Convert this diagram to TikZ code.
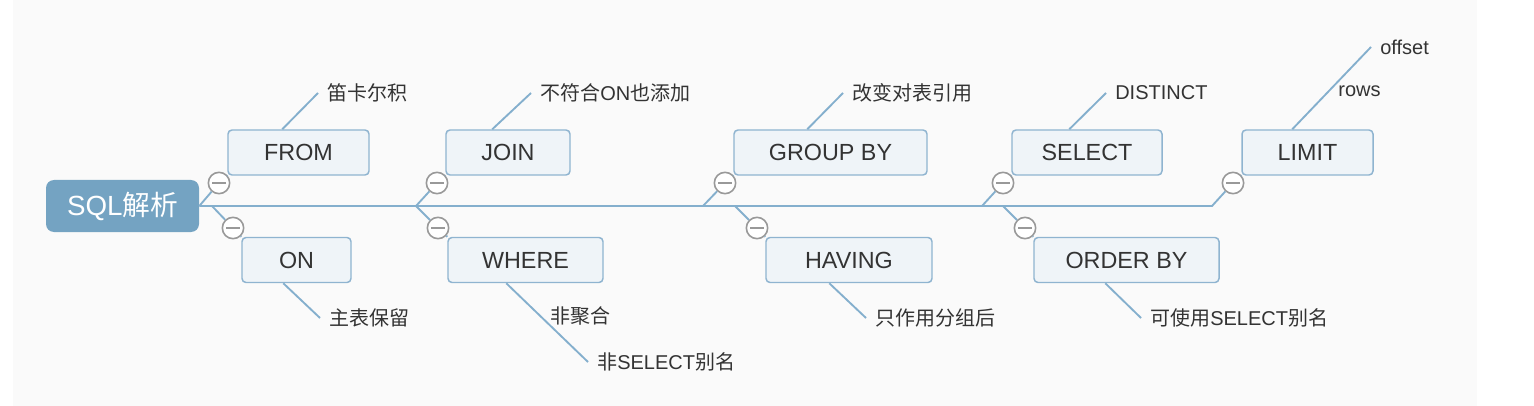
\documentclass[tikz,border=0pt]{standalone}
\usepackage{fontspec}
\setmainfont{Liberation Sans}
\newfontfamily\cjk{Noto Sans CJK SC}
\usepackage{tikz}
\definecolor{rootblue}{HTML}{74A3C2}
\definecolor{linkblue}{HTML}{84AFCD}
\definecolor{boxfill}{HTML}{EFF4F8}
\definecolor{boxline}{HTML}{8FB4D0}
\definecolor{ink}{HTML}{333333}
\definecolor{canvas}{HTML}{FAFAFA}
\tikzset{
  rootbox/.style={rounded corners=6pt, fill=rootblue, text=white, minimum width=114.75pt,
    minimum height=39pt, font=\fontsize{20.8}{24}\selectfont},
  keybox/.style={draw=boxline, line width=1.1pt, fill=boxfill, rounded corners=3pt,
    minimum height=33.75pt, text=ink, font=\fontsize{17.5}{20}\selectfont},
  minus/.style={circle, draw=gray!80, fill=white, line width=1.2pt, minimum size=16pt, inner sep=0pt,
    path picture={\draw[gray!80, line width=1.1pt] ([xshift=3pt]path picture bounding box.west)
      -- ([xshift=-3pt]path picture bounding box.east);}},
  link/.style={draw=linkblue, line width=1.4pt},
  note/.style={text=ink, font=\fontsize{15}{18}\selectfont, inner xsep=6.75pt, inner ysep=1pt, anchor=west},
}

\begin{document}
\begin{tikzpicture}[x=0.75pt,y=-0.75pt]
\useasboundingbox (0,0) rectangle (1534,406);
\fill[white] (0,0) rectangle (1534,406);
\fill[canvas] (13,0) rectangle (1477,406);

% root and clauses
\node[rootbox] (root) at (122.5,206) {SQL{\cjk 解析}};
\node[keybox, minimum width=105.75pt] (from) at (298.5,152.5) {FROM};
\node[keybox, minimum width=81.75pt] (on) at (296.5,260) {ON};
\node[keybox, minimum width=93pt] (join) at (508,152.5) {JOIN};
\node[keybox, minimum width=116.25pt] (where) at (525.5,260) {WHERE};
\node[keybox, minimum width=144.75pt] (groupby) at (830.5,152.5) {GROUP BY};
\node[keybox, minimum width=124.5pt] (having) at (849,260) {HAVING};
\node[keybox, minimum width=112.5pt] (select) at (1087,152.5) {SELECT};
\node[keybox, minimum width=138.75pt] (orderby) at (1126.5,260) {ORDER BY};
\node[keybox, minimum width=98.25pt] (limit) at (1307.5,152.5) {LIMIT};

% collapse buttons
\node[minus] (mFrom) at (219,183) {};
\node[minus] (mOn) at (233,228) {};
\node[minus] (mJoin) at (437,183) {};
\node[minus] (mWhere) at (438,228) {};
\node[minus] (mGroup) at (725,183) {};
\node[minus] (mHaving) at (757,228) {};
\node[minus] (mSelect) at (1003,183) {};
\node[minus] (mOrder) at (1025,228) {};
\node[minus] (mLimit) at (1233,183) {};

\coordinate (kOn) at (212,206);
\coordinate (kJoin) at (416,206);
\coordinate (kGroup) at (703,206);
\coordinate (kHaving) at (735,206);
\coordinate (kSelect) at (982,206);
\coordinate (kOrder) at (1003,206);
\coordinate (kLimit) at (1212,206);

% spine and branches
\draw[link] (root.east) -- (kLimit) -- (mLimit) -- (limit.south west);
\draw[link] (root.east) -- (mFrom) -- (from.south west);
\draw[link] (kOn) -- (mOn) -- (on.north west);
\draw[link] (kJoin) -- (mJoin) -- (join.south west);
\draw[link] (kJoin) -- (mWhere) -- (where.north west);
\draw[link] (kGroup) -- (mGroup) -- (groupby.south west);
\draw[link] (kHaving) -- (mHaving) -- (having.north west);
\draw[link] (kSelect) -- (mSelect) -- (select.south west);
\draw[link] (kOrder) -- (mOrder) -- (orderby.north west);

% notes
\node[note] (fromNote) at (318,93) {{\cjk 笛卡尔积}};
\node[note] (onNote) at (320,318) {{\cjk 主表保留}};
\node[note] (joinNote) at (531,93) {{\cjk 不符合}ON{\cjk 也添加}};
\node[note] (whereNote) at (588,362) {{\cjk 非}SELECT{\cjk 别名}};
\node[note] (groupNote) at (843,93) {{\cjk 改变对表引用}};
\node[note] (havingNote) at (866,318) {{\cjk 只作用分组后}};
\node[note] (selectNote) at (1106,93) {DISTINCT};
\node[note] (orderNote) at (1141,318) {{\cjk 可使用}SELECT{\cjk 别名}};
\node[note] (limitNote) at (1371,47) {offset};

\draw[link] ([xshift=41.25pt]from.north west) -- (fromNote.west);
\draw[link] ([xshift=31.5pt]on.south west) -- (onNote.west);
\draw[link] ([xshift=35.25pt]join.north west) -- (joinNote.west);
\draw[link] ([xshift=44.25pt]where.south west) -- node[note, pos=0.42] {{\cjk 非聚合}} (whereNote.west);
\draw[link] ([xshift=55.5pt]groupby.north west) -- (groupNote.west);
\draw[link] ([xshift=48pt]having.south west) -- (havingNote.west);
\draw[link] ([xshift=43.5pt]select.north west) -- (selectNote.west);
\draw[link] ([xshift=54pt]orderby.south west) -- (orderNote.west);
\draw[link] ([xshift=38.25pt]limit.north west) -- node[note, pos=0.46] {rows} (limitNote.west);
\end{tikzpicture}
\end{document}
